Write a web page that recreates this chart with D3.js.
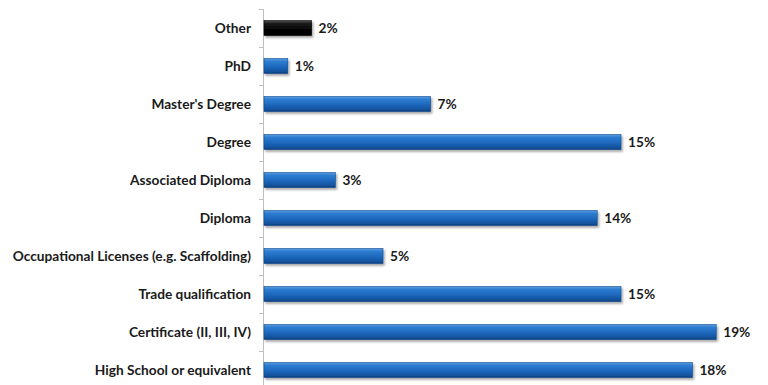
<!DOCTYPE html>
<html>
<head>
<meta charset="utf-8">
<script src="https://cdn.jsdelivr.net/npm/d3@7/dist/d3.min.js"></script>
<style>
  html, body { margin: 0; padding: 0; background: #fff; }
  svg { display: block; }
  text { font-family: Lato, "Open Sans", sans-serif; font-weight: bold; fill: #1a1a1a; }
</style>
</head>
<body>
<svg id="chart" width="768" height="385"></svg>
<script>
// Highest qualification held, share of respondents (%)
const categories = [
  "Other",
  "PhD",
  "Master's Degree",
  "Degree",
  "Associated Diploma",
  "Diploma",
  "Occupational Licenses (e.g. Scaffolding)",
  "Trade qualification",
  "Certificate (II, III, IV)",
  "High School or equivalent"
];
const values = [2, 1, 7, 15, 3, 14, 5, 15, 19, 18];
const highlighted = ["Other"];

const svg = d3.select("#chart");
const W = 768, H = 385;
const axisX = 264;

const x = d3.scaleLinear().domain([0, 20]).range([axisX, 740]);
const y = d3.scaleBand().domain(categories).range([9, 389]).paddingInner(0.6).paddingOuter(0.3);

const defs = svg.append("defs");
function grad(id, stops) {
  const g = defs.append("linearGradient").attr("id", id)
    .attr("x1", 0).attr("y1", 0).attr("x2", 0).attr("y2", 1);
  stops.forEach(([o, c]) => g.append("stop").attr("offset", o).attr("stop-color", c));
}
grad("blueBar", [[0, "#5a9ce0"], [0.18, "#2f7ed2"], [0.55, "#1c68bd"], [0.85, "#13549f"], [1, "#0c3f7a"]]);
grad("blackBar", [[0, "#555"], [0.2, "#1a1a1a"], [0.7, "#000"], [1, "#000"]]);

const shadow = defs.append("filter").attr("id", "shadow")
  .attr("x", "-5%").attr("y", "-30%").attr("width", "115%").attr("height", "190%");
shadow.append("feDropShadow").attr("dx", 1.5).attr("dy", 2).attr("stdDeviation", 1.2)
  .attr("flood-color", "#000").attr("flood-opacity", 0.35);

// Category axis on the left with ticks between bands
const boundaries = d3.range(categories.length + 1).map(i => 9 + i * (380 / categories.length));
svg.append("line")
  .attr("x1", axisX - 0.5).attr("x2", axisX - 0.5)
  .attr("y1", 9).attr("y2", H)
  .attr("stroke", "#bfbfbf").attr("stroke-width", 1);
svg.selectAll(".tick").data(boundaries).enter().append("line")
  .attr("x1", axisX - 5).attr("x2", axisX - 0.5)
  .attr("y1", d => Math.round(d) + 0.5).attr("y2", d => Math.round(d) + 0.5)
  .attr("stroke", "#bfbfbf").attr("stroke-width", 1);

const rows = categories.map((c, i) => ({ c, v: values[i] }));
const bandCenter = d => y(d.c) + y.bandwidth() / 2;
const barH = 15;

svg.selectAll(".bar").data(rows).enter().append("rect")
  .attr("x", axisX)
  .attr("y", d => bandCenter(d) - barH / 2)
  .attr("width", d => x(d.v) - axisX)
  .attr("height", barH)
  .attr("fill", d => highlighted.includes(d.c) ? "url(#blackBar)" : "url(#blueBar)")
  .attr("stroke", d => highlighted.includes(d.c) ? "#000" : "#0e4a8f")
  .attr("stroke-width", 0.6)
  .attr("filter", "url(#shadow)");

svg.selectAll(".cat").data(rows).enter().append("text")
  .attr("x", 251)
  .attr("y", d => bandCenter(d))
  .attr("dy", "0.35em")
  .attr("text-anchor", "end")
  .attr("font-size", 13.7)
  .text(d => d.c);

svg.selectAll(".val").data(rows).enter().append("text")
  .attr("x", d => x(d.v) + 7)
  .attr("y", d => bandCenter(d))
  .attr("dy", "0.35em")
  .attr("font-size", 13.7)
  .text(d => d.v + "%");
</script>
</body>
</html>
